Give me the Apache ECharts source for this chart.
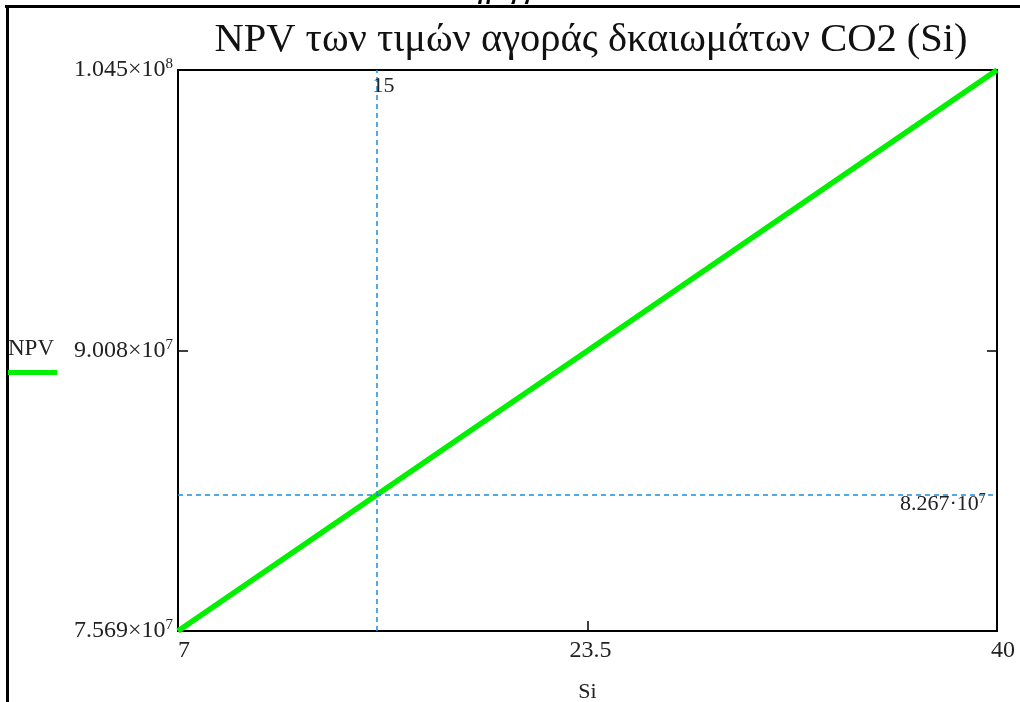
<!DOCTYPE html>
<html>
<head>
<meta charset="utf-8">
<script src="https://cdn.jsdelivr.net/npm/echarts@6/dist/echarts.min.js"></script>
<style>html,body{margin:0;padding:0;background:#fff}#c{width:1020px;height:702px}</style>
</head>
<body>
<div id="c"></div>
<script>
const titleText = 'NPV των τιμών αγοράς δκαιωμάτων CO2 (Si)';
const xName = 'Si';
const seriesName = 'NPV';
const siValues  = [7, 11, 15, 19, 23.5, 27, 31, 35, 40];
const npvValues = [7.569e7, 7.918e7, 8.267e7, 8.617e7, 9.008e7, 9.315e7, 9.664e7, 1.0013e8, 1.045e8];
const xTicks = [7, 23.5, 40];
const xTickLabels = ['7', '23.5', '40'];
const yTicks = [7.569e7, 9.008e7, 1.045e8];
const yTickLabels = [['7.569×10', '7'], ['9.008×10', '7'], ['1.045×10', '8']];
const markerX = 15;
const markerY = 8.267e7;
const markerYLabel = ['8.267·10', '7'];

const FONT = '"Liberation Serif", "DejaVu Serif", serif';
const TXT = '#222';
const richTick = {
  m: { fontFamily: FONT, fontSize: 24, color: TXT, lineHeight: 26 },
  s: { fontFamily: FONT, fontSize: 15, color: TXT, verticalAlign: 'top', lineHeight: 14 }
};
const richMark = {
  m: { fontFamily: FONT, fontSize: 22, color: TXT, lineHeight: 24 },
  s: { fontFamily: FONT, fontSize: 14, color: TXT, verticalAlign: 'top', lineHeight: 13 }
};
const dashStyle = { color: '#1a8ddb', type: [5, 4], width: 1.5 };

const chart = echarts.init(document.getElementById('c'), null, { renderer: 'canvas' });
chart.setOption({
  animation: false,
  backgroundColor: '#fff',
  title: {
    text: titleText, left: 586, top: 15, textAlign: 'center',
    textStyle: { fontFamily: FONT, fontSize: 40.5, fontWeight: 'normal', color: '#111' }
  },
  grid: { left: 178, right: 23, top: 70, bottom: 71, show: true, borderColor: '#000', borderWidth: 2, backgroundColor: 'transparent', outerBoundsMode: 'none', containLabel: false },
  xAxis: {
    type: 'value', min: 7, max: 40,
    name: xName, nameLocation: 'middle', nameGap: 50,
    nameTextStyle: { fontFamily: FONT, fontSize: 22, color: TXT },
    axisLine: { show: true, lineStyle: { color: '#000', width: 2 } },
    splitLine: { show: false },
    axisTick: { show: true, inside: true, length: 10, customValues: [23.5], lineStyle: { color: '#000', width: 1.5 } },
    axisLabel: {
      customValues: xTicks, margin: 8, showMinLabel: true, showMaxLabel: true,
      formatter: v => {
        const i = xTicks.indexOf(v);
        const t = xTickLabels[i];
        if (i === 0) return '{l|' + t + '}';
        if (i === xTicks.length - 1) return '{r|' + t + '}';
        return '{c|' + t + '}';
      },
      rich: {
        l: { fontFamily: FONT, fontSize: 24, color: TXT, padding: [0, 0, 0, 12] },
        c: { fontFamily: FONT, fontSize: 24, color: TXT, padding: [0, 0, 0, 6] },
        r: { fontFamily: FONT, fontSize: 24, color: TXT, padding: [0, 0, 0, 12] }
      }
    }
  },
  yAxis: [{
    type: 'value', min: 7.569e7, max: 1.045e8, position: 'left',
    axisLine: { show: true, lineStyle: { color: '#000', width: 2 } },
    splitLine: { show: false },
    axisTick: { show: true, inside: true, length: 10, customValues: [9.008e7], lineStyle: { color: '#000', width: 1.5 } },
    axisLabel: {
      customValues: yTicks, margin: 5, showMinLabel: true, showMaxLabel: true,
      formatter: v => {
        const i = yTicks.indexOf(v);
        return '{m|' + yTickLabels[i][0] + '}{s|' + yTickLabels[i][1] + '}';
      },
      rich: richTick
    }
  }, {
    type: 'value', min: 7.569e7, max: 1.045e8, position: 'right',
    axisLine: { show: true, lineStyle: { color: '#000', width: 2 } },
    splitLine: { show: false },
    axisTick: { show: true, inside: true, length: 10, customValues: [9.008e7], lineStyle: { color: '#000', width: 1.5 } },
    axisLabel: { show: false }
  }],
  series: [{
    name: seriesName, type: 'line', symbol: 'none',
    data: siValues.map((x, i) => [x, npvValues[i]]),
    lineStyle: { color: '#00f000', width: 5.5 },
    z: 3,
    markLine: {
      silent: true, symbol: 'none', label: { show: false },
      lineStyle: dashStyle,
      data: [{ xAxis: markerX, lineStyle: dashStyle }, { yAxis: markerY, lineStyle: dashStyle }]
    },
    markPoint: {
      symbol: 'rect', symbolSize: 0, silent: true,
      data: [
        { coord: [markerX, 1.045e8], label: { show: true, formatter: String(markerX), position: [-4, 5], fontFamily: FONT, fontSize: 22, color: TXT } },
        { coord: [40, markerY], label: { show: true, formatter: '{m|' + markerYLabel[0] + '}{s|' + markerYLabel[1] + '}', position: [-97, -3], rich: richMark } }
      ]
    }
  }],
  graphic: [
    { type: 'rect', shape: { x: 5, y: 5, width: 1015, height: 3 }, style: { fill: '#000' }, silent: true },
    { type: 'rect', shape: { x: 6, y: 5, width: 3, height: 697 }, style: { fill: '#000' }, silent: true },
    { type: 'text', x: 497, y: -19, style: { text: 'Διάγραμμα', fontFamily: FONT, fontSize: 24, fontWeight: 'bold', fontStyle: 'italic', fill: '#000', textAlign: 'center' }, silent: true },
    { type: 'text', x: 8, y: 337, style: { text: seriesName, fontFamily: FONT, fontSize: 23, fill: TXT }, silent: true },
    { type: 'rect', shape: { x: 8, y: 370, width: 49, height: 5 }, style: { fill: '#00f000' }, silent: true }
  ]
});
</script>
</body>
</html>
